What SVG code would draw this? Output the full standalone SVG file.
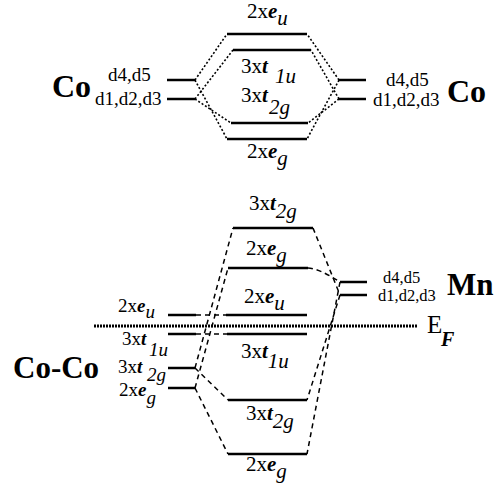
<svg xmlns="http://www.w3.org/2000/svg" width="500" height="491" viewBox="0 0 500 491" font-family="'Liberation Serif', 'Times New Roman', serif">
<style>
text{font-family:'Liberation Serif','Times New Roman',serif;fill:#000}
.lv{stroke:#000;stroke-width:2.5;fill:none}
.lb{font-size:21px}
.ls{font-size:19px}
.bi{font-weight:bold;font-style:italic}
.it{font-style:italic}
.el{font-size:31px;font-weight:bold}
.d{font-size:19px}
.dot{stroke:#000;stroke-width:1.6;stroke-dasharray:2 2;fill:none}
.dsh{stroke:#000;stroke-width:1.5;stroke-dasharray:5 4;fill:none}
.ef{stroke:#000;stroke-width:3;stroke-dasharray:2 1;fill:none}
</style>
<rect width="500" height="491" fill="#fff"/>

<!-- Top diagram: Co + Co -->
<g id="co-left-top">
<line class="lv" x1="167" y1="80" x2="195" y2="80"/>
<line class="lv" x1="167" y1="99" x2="195" y2="99"/>
<text class="el" x="52" y="97" style="font-size:32px">Co</text>
<text class="d" x="108" y="81">d4,d5</text>
<text class="d" x="95" y="105">d1,d2,d3</text>
</g>
<g id="co-right-top">
<line class="lv" x1="339" y1="80" x2="366" y2="80"/>
<line class="lv" x1="339" y1="99" x2="366" y2="99"/>
<text class="el" x="447" y="102" style="font-size:32px">Co</text>
<text class="d" x="386" y="86">d4,d5</text>
<text class="d" x="373" y="106">d1,d2,d3</text>
</g>
<g id="top-eu">
<line class="lv" x1="227" y1="34" x2="307" y2="34"/>
<text class="lb" x="247" y="18">2x<tspan class="bi">e</tspan><tspan class="it" dy="7">u</tspan></text>
</g>
<g id="top-t1u">
<line class="lv" x1="233" y1="50" x2="311" y2="50"/>
<text class="lb" x="241" y="73">3x<tspan class="bi">t</tspan></text>
<text class="lb it" x="275" y="83">1u</text>
</g>
<g id="top-t2g">
<line class="lv" x1="231" y1="123" x2="308" y2="123"/>
<text class="lb" x="241" y="102">3x<tspan class="bi">t</tspan></text>
<text class="lb it" x="269" y="114">2g</text>
</g>
<g id="top-eg">
<line class="lv" x1="227" y1="139" x2="307" y2="139"/>
<text class="lb" x="247" y="158">2x<tspan class="bi">e</tspan><tspan class="it" dy="7">g</tspan></text>
</g>

<!-- Bottom diagram: Co-Co + Mn -->
<g id="coco">
<text class="el" x="13" y="378">Co-Co</text>
</g>
<g id="coco-eu">
<line class="lv" x1="168" y1="315" x2="196" y2="315"/>
<text class="ls" x="118" y="312">2x<tspan class="bi">e</tspan><tspan class="it" dy="6">u</tspan></text>
</g>
<g id="coco-t1u">
<line class="lv" x1="168" y1="334" x2="196" y2="334"/>
<text class="ls" x="122" y="345">3x<tspan class="bi">t</tspan></text>
<text class="ls it" x="149" y="356">1u</text>
</g>
<g id="coco-t2g">
<line class="lv" x1="168" y1="368" x2="195" y2="368"/>
<text class="ls" x="118" y="373">3x<tspan class="bi">t</tspan></text>
<text class="ls it" x="147" y="381">2g</text>
</g>
<g id="coco-eg">
<line class="lv" x1="168" y1="388" x2="195" y2="388"/>
<text class="ls" x="119" y="396">2x<tspan class="bi">e</tspan><tspan class="it" dy="8">g</tspan></text>
</g>
<g id="mn">
<line class="lv" x1="340" y1="282" x2="367" y2="282"/>
<line class="lv" x1="340" y1="295" x2="367" y2="295"/>
<text class="el" x="447" y="295">Mn</text>
<text class="d" x="383" y="283" style="font-size:16.5px">d4,d5</text>
<text class="d" x="378" y="301" style="font-size:16.5px">d1,d2,d3</text>
</g>
<g id="b-t2g-up">
<line class="lv" x1="233" y1="228" x2="313" y2="228"/>
<text class="lb" x="249" y="210">3x<tspan class="bi">t</tspan><tspan class="it" dy="8">2g</tspan></text>
</g>
<g id="b-eg-up">
<line class="lv" x1="228" y1="268" x2="308" y2="268"/>
<text class="lb" x="246" y="255">2x<tspan class="bi">e</tspan><tspan class="it" dy="7">g</tspan></text>
</g>
<g id="b-eu">
<line class="lv" x1="226" y1="315" x2="307" y2="315"/>
<text class="lb" x="244" y="303">2x<tspan class="bi">e</tspan><tspan class="it" dy="7">u</tspan></text>
</g>
<g id="b-t1u">
<line class="lv" x1="227" y1="334" x2="307" y2="334"/>
<text class="lb" x="241" y="358">3x<tspan class="bi">t</tspan><tspan class="it" dy="10">1u</tspan></text>
</g>
<g id="b-t2g-low">
<line class="lv" x1="228" y1="400" x2="307" y2="400"/>
<text class="lb" x="246" y="420">3x<tspan class="bi">t</tspan><tspan class="it" dy="8">2g</tspan></text>
</g>
<g id="b-eg-low">
<line class="lv" x1="228" y1="454" x2="307" y2="454"/>
<text class="lb" x="246" y="471">2x<tspan class="bi">e</tspan><tspan class="it" dy="7">g</tspan></text>
</g>
<g id="fermi">
<line class="ef" x1="94" y1="326" x2="418" y2="326"/>
<text x="427" y="333" style="font-size:25px">E</text>
<text class="bi" x="441" y="346" style="font-size:20px">F</text>
</g>

<g id="connectors">
<line class="dot" x1="195" y1="80" x2="227" y2="34"/>
<line class="dot" x1="195" y1="99" x2="233" y2="50"/>
<line class="dot" x1="195" y1="99" x2="231" y2="123"/>
<line class="dot" x1="195" y1="80" x2="227" y2="139"/>
<line class="dot" x1="339" y1="80" x2="307" y2="34"/>
<line class="dot" x1="339" y1="99" x2="311" y2="50"/>
<line class="dot" x1="339" y1="99" x2="308" y2="123"/>
<line class="dot" x1="339" y1="80" x2="307" y2="139"/>

<line class="dsh" x1="195" y1="368" x2="233" y2="228"/>
<line class="dsh" x1="195" y1="388" x2="228" y2="268"/>
<line class="dsh" x1="195" y1="368" x2="228" y2="400"/>
<line class="dsh" x1="195" y1="388" x2="228" y2="454"/>
<line class="dsh" x1="196" y1="315" x2="226" y2="315"/>
<line class="dsh" x1="196" y1="334" x2="227" y2="334"/>
<line class="dsh" x1="313" y1="228" x2="340" y2="295"/>
<path class="dsh" d="M308,268 Q318,268 340,282"/>
<line class="dsh" x1="340" y1="282" x2="307" y2="454"/>
<line class="dsh" x1="340" y1="295" x2="307" y2="400"/>
</g>
</svg>
